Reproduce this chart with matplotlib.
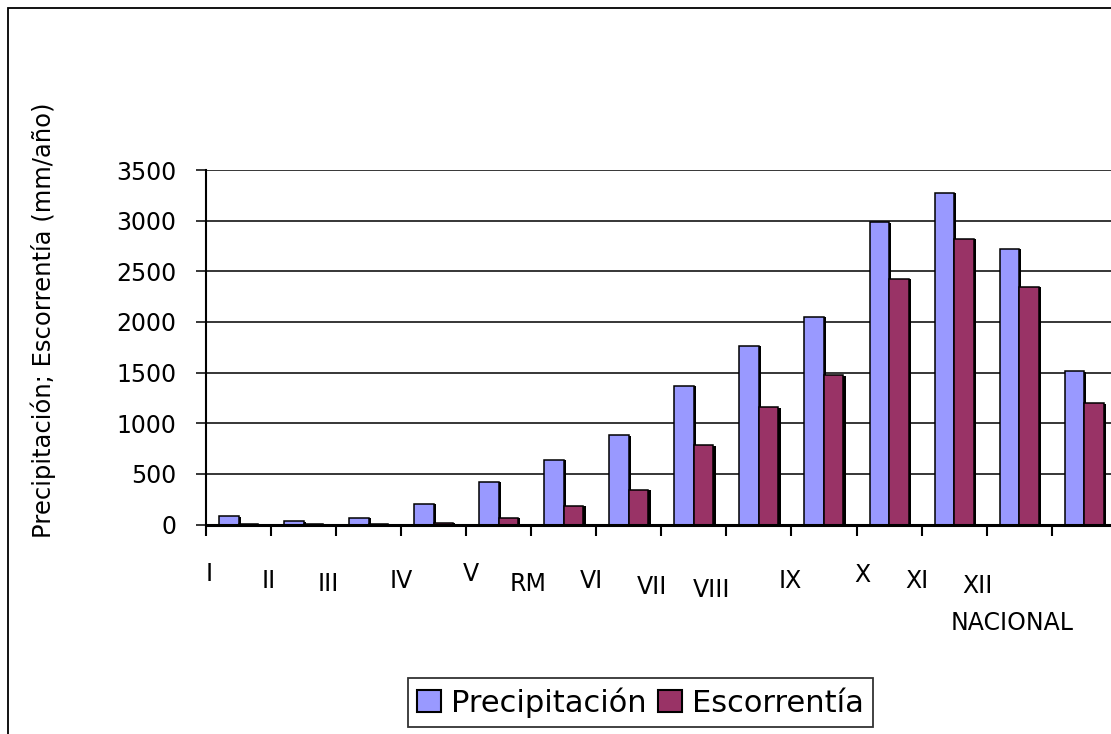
import matplotlib
matplotlib.use("Agg")
import matplotlib.pyplot as plt
import matplotlib.patheffects as pe
from matplotlib.patches import Rectangle
import numpy as np

# ---- data ----
categories = ["I", "II", "III", "IV", "V", "RM", "VI", "VII", "VIII",
              "IX", "X", "XI", "XII", "NACIONAL"]
precipitacion = [80, 30, 67, 205, 423, 640, 880, 1370, 1767, 2048, 2982, 3275, 2721, 1513]
escorrentia = [4, 6, 3, 18, 67, 185, 342, 780, 1157, 1473, 2424, 2820, 2345, 1196]
yticks = [0, 500, 1000, 1500, 2000, 2500, 3000, 3500]

# ---- layout (pixel offsets of the staggered category labels) ----
label_dx_px = [3.5, -2, -8, 0, 4.5, -3, -4.5, -9.7, -14.7, -0.7, 6.3, -4.2, -9, -39.2]
label_y_px = [574, 580.5, 584, 580.5, 574, 584, 580.5, 587, 590, 580.5, 575.5, 580.5, 586, 622.5]

W, H = 1111, 734
fig = plt.figure(figsize=(W / 100, H / 100), dpi=100)
fig.patch.set_facecolor("white")

ax_left, ax_bottom_px, ax_top_px = 206, 524.5, 170
ax_width_px = 14 * 65.05
ax = fig.add_axes([ax_left / W, 1 - ax_bottom_px / H, ax_width_px / W,
                   (ax_bottom_px - ax_top_px) / H])

x = np.arange(len(categories))
w = 0.30
blue = "#9999FF"
red = "#993366"
shadow = [pe.SimplePatchShadow(offset=(1.6, -0.3), shadow_rgbFace="black", alpha=1.0),
          pe.Normal()]

b1 = ax.bar(x - w / 2, precipitacion, width=w, color=blue, edgecolor="black",
            linewidth=1.1, zorder=3, label="Precipitación")
b2 = ax.bar(x + w / 2, escorrentia, width=w, color=red, edgecolor="black",
            linewidth=1.1, zorder=3, label="Escorrentía")
for bars in (b1, b2):
    for p in bars:
        p.set_path_effects(shadow)

ax.set_xlim(-0.5, len(categories) - 0.5)
ax.set_ylim(0, 3500)
ax.set_yticks(yticks)
ax.set_yticklabels([str(v) for v in yticks])
ax.yaxis.grid(True, color="black", linewidth=1.1, zorder=0)
ax.set_axisbelow(True)

ax.set_xticks(np.arange(len(categories)) - 0.5)
ax.set_xticklabels([])
ax.tick_params(axis="x", direction="out", length=8, width=1.5, color="black")
ax.tick_params(axis="y", direction="out", length=7.2, width=1.1, color="black",
               pad=14, labelsize=17)

for s in ("top", "right"):
    ax.spines[s].set_visible(False)
ax.spines["left"].set_linewidth(1.5)
ax.spines["bottom"].set_linewidth(2.2)
ax.spines["bottom"].set_zorder(5)

for i, lab in enumerate(categories):
    ax.annotate(lab, xy=(i - 0.5, 0), xycoords=("data", "axes fraction"),
                xytext=(label_dx_px[i] * 0.72, -(label_y_px[i] - ax_bottom_px) * 0.72),
                textcoords="offset points", ha="center", va="center",
                fontsize=17, color="black", annotation_clip=False)

fig.text(43 / W, 1 - 320 / H, "Precipitación; Escorrentía (mm/año)",
         rotation=90, ha="center", va="center", fontsize=17.5)

leg = fig.legend(handles=[b1, b2], labels=["Precipitación", "Escorrentía"],
                 loc="center", bbox_to_anchor=(640.5 / W, 1 - 702.5 / H),
                 ncol=2, fontsize=22, frameon=True, fancybox=False,
                 handlelength=0.78, handleheight=0.72, handletextpad=0.33,
                 columnspacing=0.36, borderpad=0.3, borderaxespad=0)
leg.get_frame().set_edgecolor("black")
leg.get_frame().set_linewidth(1.3)
for h in leg.legend_handles:
    h.set_path_effects([])
    h.set_linewidth(1.5)

# outer chart frame (extends beyond the right and bottom edges)
frame = Rectangle((8 / W, -0.1), 1.2, 1.1 - 8 / H + 0.0, transform=fig.transFigure,
                  fill=False, edgecolor="black", linewidth=1.3)
fig.add_artist(frame)

fig.savefig("out.png", dpi=100)
